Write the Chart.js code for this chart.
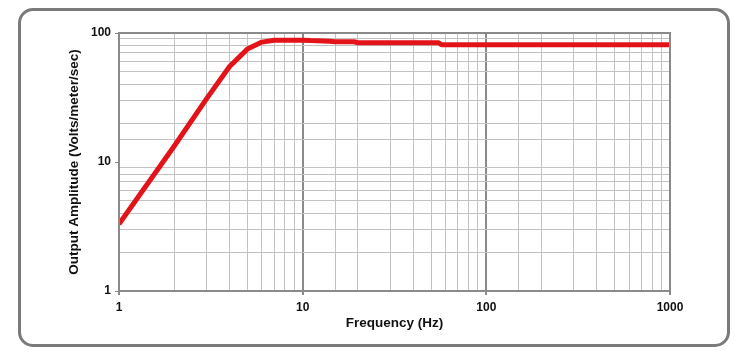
<!DOCTYPE html>
<html>
<head>
<meta charset="utf-8">
<script src="https://cdn.jsdelivr.net/npm/chart.js@4/dist/chart.umd.min.js"></script>
<style>
  html, body { margin: 0; padding: 0; background: #ffffff; }
  #wrap { position: relative; width: 750px; height: 362px; }
  #frame { position: absolute; left: 18px; top: 8px; width: 706px; height: 333px;
           border: 3px solid #7a7a7a; border-radius: 15px; box-sizing: content-box; }
  canvas { position: absolute; left: 0; top: 0; }
</style>
</head>
<body>
<div id="wrap">
  <div id="frame"></div>
  <canvas id="c" width="750" height="362"></canvas>
</div>
<script>
// Data
const frequencyHz = [1, 2, 3, 4, 5, 6, 7, 8, 10, 11, 12, 14, 15, 19, 20, 55, 57, 100, 1000];
const amplitude   = [3.3, 13.3, 31, 55, 75, 85, 88, 88, 88, 87.3, 87, 86.2, 85.6, 85.6, 84, 84, 81, 81, 81];
const xTickLabels = [1, 10, 100, 1000];
const yTickLabels = [1, 10, 100];

const seriesPoints = frequencyHz.map((f, i) => ({ x: f, y: amplitude[i] }));

const fontFamily = "'Liberation Sans', Arial, sans-serif";
const isMajor = (v, list) => list.some(m => Math.abs(v - m) < 1e-9);

const frameBorder = {
  id: 'frameBorder',
  afterDatasetsDraw(chart) {
    const { ctx, chartArea: a } = chart;
    ctx.save();
    ctx.strokeStyle = '#8a8a8a';
    ctx.lineWidth = 2;
    ctx.strokeRect(a.left, a.top, a.right - a.left, a.bottom - a.top);
    ctx.restore();
  }
};

new Chart(document.getElementById('c'), {
  type: 'line',
  data: {
    datasets: [{
      data: seriesPoints,
      borderColor: '#e3131a',
      borderWidth: 5,
      pointRadius: 0,
      tension: 0,
      fill: false,
      borderJoinStyle: 'round',
      borderCapStyle: 'butt'
    }]
  },
  options: {
    responsive: false,
    animation: false,
    events: [],
    layout: { padding: { left: 60, right: 80, top: 33, bottom: 29 } },
    plugins: { legend: { display: false }, tooltip: { enabled: false } },
    scales: {
      x: {
        type: 'logarithmic',
        min: 1, max: 1000,
        afterFit(s) { s.height = 42; },
        border: { display: true, color: '#8a8a8a', width: 2 },
        grid: {
          color: ctx => isMajor(ctx.tick.value, xTickLabels) ? '#8a8a8a' : '#c2c2c2',
          lineWidth: ctx => isMajor(ctx.tick.value, xTickLabels) ? 2 : 1,
          tickColor: ctx => isMajor(ctx.tick.value, xTickLabels) ? '#8a8a8a' : 'rgba(0,0,0,0)',
          tickLength: 4,
          drawTicks: true
        },
        ticks: {
          autoSkip: false,
          maxRotation: 0,
          padding: 5,
          color: '#111',
          font: { family: fontFamily, size: 12, weight: 'bold' },
          callback: v => isMajor(v, xTickLabels) ? String(v) : ''
        },
        title: {
          display: true,
          text: 'Frequency (Hz)',
          color: '#111',
          font: { family: fontFamily, size: 13.5, weight: 'bold' },
          padding: { top: 0, bottom: 2 }
        }
      },
      y: {
        type: 'logarithmic',
        min: 1, max: 100,
        afterFit(s) { s.width = 59; },
        border: { display: true, color: '#8a8a8a', width: 2 },
        grid: {
          color: ctx => isMajor(ctx.tick.value, yTickLabels) ? 'rgba(0,0,0,0)' : '#c2c2c2',
          lineWidth: 1,
          tickColor: ctx => isMajor(ctx.tick.value, yTickLabels) ? '#8a8a8a' : 'rgba(0,0,0,0)',
          tickLength: 4,
          drawTicks: true
        },
        ticks: {
          autoSkip: false,
          padding: 4,
          color: '#111',
          font: { family: fontFamily, size: 12, weight: 'bold' },
          callback: v => isMajor(v, yTickLabels) ? String(v) : ''
        },
        title: {
          display: true,
          text: 'Output Amplitude (Volts/meter/sec)',
          color: '#111',
          font: { family: fontFamily, size: 13.5, weight: 'bold' },
          padding: { top: 6, bottom: 0 }
        }
      }
    }
  },
  plugins: [frameBorder]
});
</script>
</body>
</html>
